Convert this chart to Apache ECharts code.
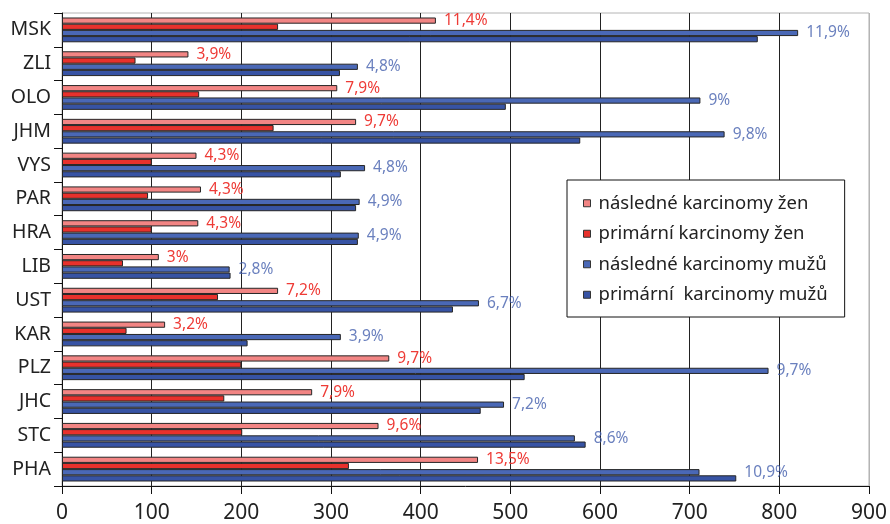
<!DOCTYPE html>
<html>
<head>
<meta charset="utf-8">
<script src="https://cdn.jsdelivr.net/npm/echarts@6/dist/echarts.min.js"></script>
<style>
  html, body { margin: 0; padding: 0; background: #fff; }
  #chart { width: 890px; height: 524px; }
</style>
</head>
<body>
<div id="chart"></div>
<script>
// Regions, listed bottom to top as the category axis draws them
const regions = ['PHA', 'STC', 'JHC', 'PLZ', 'KAR', 'UST', 'LIB', 'HRA', 'PAR', 'VYS', 'JHM', 'OLO', 'ZLI', 'MSK'];

const seriesNames = [
  'následné karcinomy žen',
  'primární karcinomy žen',
  'následné karcinomy mužů',
  'primární  karcinomy mužů'
];

// Case counts per region
const womenFollowUp = [464, 353, 279, 365, 115, 241, 108, 152, 155, 150, 328, 307, 141, 417];
const womenPrimary  = [320, 201, 181, 200,  72, 174,  68, 100,  96, 100, 236, 153,  82, 241];
const menFollowUp   = [711, 572, 493, 788, 311, 465, 187, 331, 332, 338, 739, 712, 330, 821];
const menPrimary    = [752, 584, 467, 516, 207, 436, 188, 330, 328, 311, 578, 495, 310, 776];

// Percentage shares printed beside the bars
const womenShare = ['13,5%', '9,6%', '7,9%', '9,7%', '3,2%', '7,2%', '3%', '4,3%', '4,3%', '4,3%', '9,7%', '7,9%', '3,9%', '11,4%'];
const menShare   = ['10,9%', '8,6%', '7,2%', '9,7%', '3,9%', '6,7%', '2,8%', '4,9%', '4,9%', '4,8%', '9,8%', '9%', '4,8%', '11,9%'];

const xTicks = { min: 0, max: 900, interval: 100 };

const FONT = '"Noto Sans", "Open Sans", sans-serif';
const colors = ['#F28584', '#E8312C', '#4A68B6', '#3753A4'];
const barBorder = { borderColor: '#262626', borderWidth: 1 };

const chart = echarts.init(document.getElementById('chart'), null, { renderer: 'canvas' });

function barSeries(name, values, color, label) {
  return {
    name: name,
    type: 'bar',
    data: values,
    barWidth: 6.2,
    barGap: '0%',
    itemStyle: Object.assign({ color: color }, barBorder),
    label: label || { show: false },
    emphasis: { disabled: true },
    animation: false
  };
}

// Men's share label sits at the end of whichever men's bar is longer
const menLabelPoints = regions.map((r, i) => ({
  value: [Math.max(menFollowUp[i], menPrimary[i]), r],
  share: menShare[i]
}));

chart.setOption({
  animation: false,
  grid: {
    left: 62, right: 18, top: 13, bottom: 37,
    show: true, borderColor: '#b4b4b4', borderWidth: 1, backgroundColor: 'transparent'
  },
  legend: {
    orient: 'vertical',
    left: 567, top: 180,
    data: seriesNames,
    icon: 'rect',
    itemWidth: 7, itemHeight: 7,
    itemGap: 10,
    padding: [13, 17, 12, 16],
    borderColor: '#111', borderWidth: 1,
    backgroundColor: '#fff',
    textStyle: { fontFamily: FONT, fontSize: 18.5, color: '#222', lineHeight: 20.5, padding: [0, 0, 0, 3] },
    itemStyle: { borderColor: '#333', borderWidth: 1 }
  },
  xAxis: {
    type: 'value',
    min: xTicks.min, max: xTicks.max, interval: xTicks.interval,
    axisLine: { show: true, lineStyle: { color: '#111', width: 1 } },
    axisTick: { show: true, length: 8, lineStyle: { color: '#111' } },
    axisLabel: { fontFamily: FONT, fontSize: 21, color: '#222', margin: 17 },
    splitLine: {
      show: true,
      lineStyle: { color: ['#222', '#222', '#222', '#222', '#222', '#222', '#222', '#222', '#222', '#b4b4b4'], width: 1 }
    }
  },
  yAxis: {
    type: 'category',
    data: regions,
    axisLine: { show: true, lineStyle: { color: '#111', width: 1 } },
    axisTick: { show: true, length: 8, lineStyle: { color: '#111' } },
    axisLabel: { fontFamily: FONT, fontSize: 19.5, color: '#222', margin: 11 },
    splitLine: { show: false }
  },
  series: [
    barSeries(seriesNames[0], womenFollowUp, colors[0], {
      show: true, position: 'right', distance: 8,
      fontFamily: FONT, fontSize: 15.5, color: '#EE3B36',
      formatter: p => womenShare[p.dataIndex]
    }),
    barSeries(seriesNames[1], womenPrimary, colors[1]),
    barSeries(seriesNames[2], menFollowUp, colors[2]),
    barSeries(seriesNames[3], menPrimary, colors[3]),
    {
      type: 'scatter',
      data: menLabelPoints,
      symbolSize: 0.01,
      itemStyle: { color: 'rgba(0,0,0,0)' },
      label: {
        show: true, position: 'right', distance: 8, offset: [0, 3],
        fontFamily: FONT, fontSize: 15.5, color: '#4560AE',
        formatter: p => p.data.share
      },
      silent: true,
      z: 5
    }
  ]
});
</script>
</body>
</html>
